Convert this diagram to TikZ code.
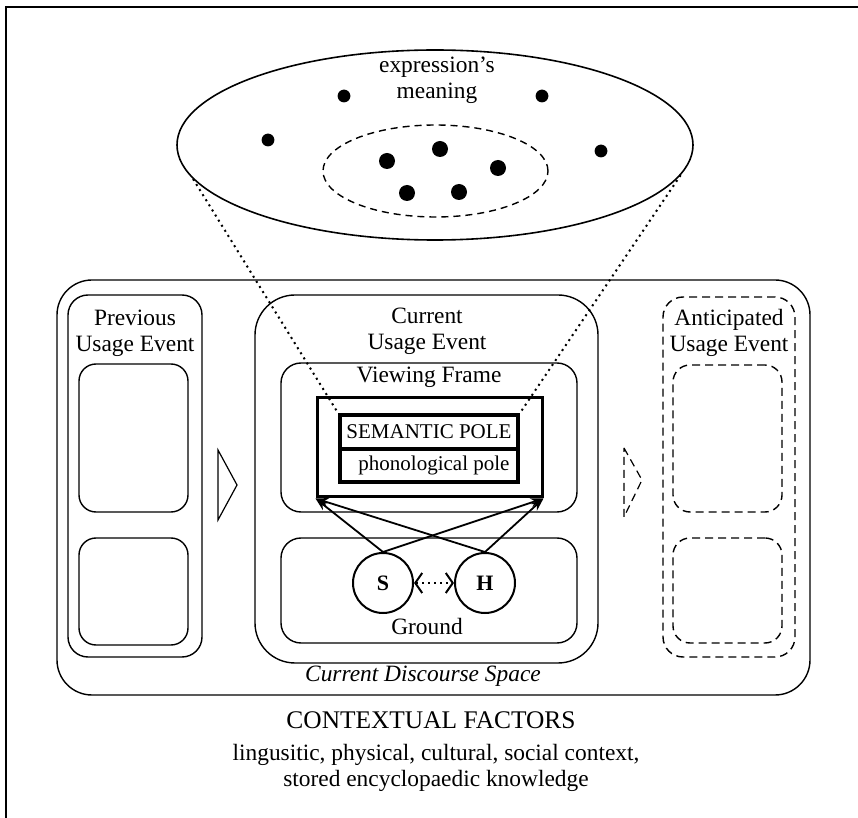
\documentclass[tikz,border=0pt]{standalone}
\usepackage{fontspec}
\setmainfont{Liberation Serif}
\usepackage{tikz}
\usetikzlibrary{shapes.geometric, arrows, arrows.meta}
\tikzstyle{event} = [rectangle, draw=black, line width=0.7pt, inner sep=0pt]
\tikzstyle{future} = [event, dash pattern=on 4pt off 2.5pt]
\tikzstyle{cell} = [rectangle, draw=black, line width=2pt, inner sep=0pt, minimum width=89pt, font=\fontsize{10.5}{12}\selectfont]
\tikzstyle{lbl} = [align=center, inner sep=0pt]
\tikzstyle{person} = [circle, draw=black, line width=1pt, minimum size=30pt, inner sep=0pt, font=\fontsize{11}{12}\selectfont\bfseries]
\tikzstyle{arrow} = [line width=0.9pt,->,>={Stealth[length=6.5pt,width=4.5pt]}]
\tikzstyle{zoomline} = [dotted, line width=1pt]

\begin{document}
\begin{tikzpicture}[x=0.5pt, y=-0.5pt, font=\fontsize{11.7}{13}\selectfont]
\useasboundingbox (0,0) rectangle (858,818);
\draw [line width=1pt] (858,7) -- (6,7) -- (6,818);

\node (meaning) [ellipse, draw=black, line width=0.8pt, minimum width=258pt, minimum height=95pt] at (435,145) {};
\node (core) [ellipse, draw=black, dash pattern=on 3.5pt off 2.5pt, line width=0.7pt, minimum width=112.5pt, minimum height=46pt] at (435.5,171) {};
\node (meaninglbl) [lbl] at (437,80) {expression's\\meaning};
\foreach \x/\y in {344/96, 542/96, 268/140, 601/151}
  \fill (\x,\y) circle (3.2pt);
\foreach \x/\y in {387/161, 440/149, 498/168, 407/193, 459/192}
  \fill (\x,\y) circle (4pt);

\node (cds) [event, rounded corners=17.5pt, minimum width=376.5pt, minimum height=207.5pt] at (433.5,487.5) {};
\node (cdslbl) [lbl, font=\fontsize{11.7}{13}\selectfont\itshape] at (423,676) {Current Discourse Space};

\node (prev) [event, rounded corners=10pt, minimum width=67pt, minimum height=181pt] at (135,476) {};
\node (prevlbl) [lbl] at (135,333) {Previous\\Usage Event};
\node (prev1) [event, rounded corners=8.5pt, minimum width=54.5pt, minimum height=74pt] at (133.5,438) {};
\node (prev2) [event, rounded corners=8.5pt, minimum width=54.5pt, minimum height=53.5pt] at (133.5,591.5) {};
\draw [line width=0.6pt] (218,450) -- (237,485) -- (218,520) -- cycle;

\node (cur) [event, rounded corners=20pt, minimum width=171.5pt, minimum height=184pt] at (426.5,479) {};
\node (curlbl) [lbl] at (427,331) {Current\\Usage Event};
\node (view) [event, rounded corners=10pt, minimum width=148pt, minimum height=74.5pt] at (429,437.5) {};
\node (viewlbl) [lbl] at (429,377) {Viewing Frame};
\node (pole) [rectangle, draw=black, line width=1.5pt, minimum width=112.5pt, minimum height=49.5pt] at (429.5,447.5) {};
\node (sem) [cell, minimum height=17pt] at (429,432) {SEMANTIC POLE};
\node (phon) [cell, minimum height=16.5pt] at (429,465.5) {\hspace{5pt}phonological pole};
\node (ground) [event, rounded corners=10pt, minimum width=148pt, minimum height=52.5pt] at (429,590.5) {};
\node (groundlbl) [lbl] at (427,626) {Ground};
\node (S) [person] at (383,583) {S};
\node (H) [person] at (485,583) {H};

\node (ant) [future, rounded corners=10pt, minimum width=66pt, minimum height=180pt] at (729,477) {};
\node (antlbl) [lbl] at (729,333) {Anticipated\\Usage Event};
\node (ant1) [future, rounded corners=8.5pt, minimum width=54.5pt, minimum height=73.5pt] at (727.5,438.5) {};
\node (ant2) [future, rounded corners=8.5pt, minimum width=54.5pt, minimum height=52.5pt] at (727.5,590.5) {};
\draw [line width=0.6pt, dash pattern=on 4pt off 2.5pt] (624,448) -- (642,480) -- (624,517) -- cycle;

\node (ctx) [lbl, font=\fontsize{12.7}{14}\selectfont] at (431,720) {CONTEXTUAL FACTORS};
\node (ctxlist) [lbl] at (436,768) {lingusitic, physical, cultural, social context,\\stored encyclopaedic knowledge};

\draw [arrow] (S.north) -- (pole.south west);
\draw [arrow] (S.north) -- (pole.south east);
\draw [arrow] (H.north) -- (pole.south west);
\draw [arrow] (H.north) -- (pole.south east);
\draw [dotted, line width=1pt, {Straight Barb[length=3.5pt,width=10pt]}-{Straight Barb[length=3.5pt,width=10pt]}] (S) -- (H);
\draw [zoomline] (meaning.188) -- (sem.north west);
\draw [zoomline] (meaning.353) -- (sem.north east);
\end{tikzpicture}
\end{document}
